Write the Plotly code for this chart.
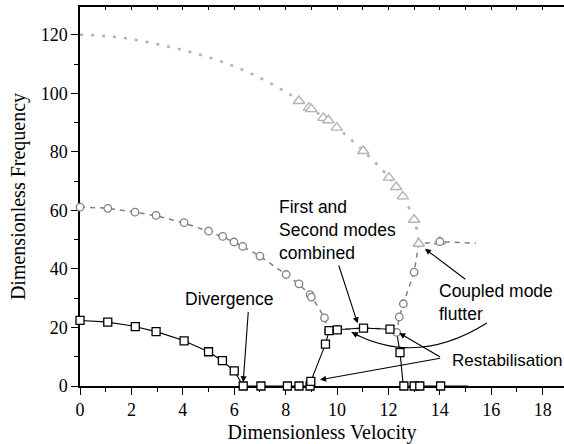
import plotly.graph_objects as go

# ---- data ----
# Mode 1 (squares, solid black)
mode1_line_x = [0, 1, 2, 3, 4, 5, 5.5, 6, 6.35, 8.95, 8.98, 9.55, 9.69, 10.0, 11.0, 12.06, 12.32, 12.45, 12.58, 15.1]
mode1_line_y = [22.4, 21.9, 20.6, 18.5, 15.6, 11.7, 8.8, 5.2, 0, 0, 1.6, 14.3, 18.9, 19.2, 19.8, 19.4, 18.6, 11.4, 0, 0]
mode1_pts_x = [0, 1.08, 2.15, 2.96, 4.05, 5.0, 5.54, 6.0, 6.35, 7.04, 8.07, 8.52, 8.95, 8.98, 9.55, 9.69, 10.01, 11.03, 12.06, 12.45, 12.6, 13.0, 13.22, 14.03]
mode1_pts_y = [22.4, 21.8, 20.3, 18.6, 15.4, 11.7, 8.7, 5.2, 0, 0, 0, 0, 0, 1.6, 14.3, 18.9, 19.2, 19.8, 19.4, 11.4, 0, 0, 0, 0]

# Mode 2 (circles, grey dashed)
mode2_line_x = [0, 1, 2, 3, 4, 5, 6, 7, 8, 8.5, 9.0, 9.5, 9.66, 10.0, 11.0, 12.06, 12.32, 12.42, 12.58, 13.0, 13.18, 14.0, 15.4]
mode2_line_y = [61.1, 60.8, 59.6, 58.1, 55.8, 52.9, 49.2, 44.4, 38.2, 34.9, 30.8, 23.5, 18.8, 19.2, 19.8, 19.4, 18.3, 23.6, 28.1, 38.9, 48.6, 49.3, 48.8]
mode2_pts_x = [0, 1.08, 2.14, 2.96, 4.05, 5.0, 5.55, 5.99, 6.33, 7.0, 8.02, 8.52, 8.95, 9.0, 9.51, 9.66, 10.0, 12.32, 12.42, 12.58, 13.0, 14.0]
mode2_pts_y = [61.1, 60.7, 59.4, 58.3, 55.8, 52.9, 51.1, 49.2, 47.7, 44.4, 38.1, 34.9, 31.2, 30.4, 23.3, 18.8, 19.3, 18.3, 23.6, 28.1, 38.9, 49.3]

# Mode 3 (triangles, light grey dotted)
mode3_line_x = [0, 1, 2, 3, 4, 5, 6, 7, 8, 9, 10, 11, 12, 12.5, 13.0, 13.18]
mode3_line_y = [120, 119.6, 118.5, 116.8, 114.8, 112.3, 109.2, 105.3, 100.5, 94.8, 88.2, 80.5, 71.5, 65.3, 57, 48.6]
mode3_pts_x = [8.52, 8.91, 9.0, 9.47, 9.66, 9.99, 11.02, 12.02, 12.3, 12.56, 13.0, 13.18, 14.0]
mode3_pts_y = [97.4, 95.1, 94.6, 91.6, 90.8, 88.3, 80.3, 71.2, 68.0, 64.8, 56.8, 48.6, 49.3]

x_ticks = [0, 2, 4, 6, 8, 10, 12, 14, 16, 18]
y_ticks = [0, 20, 40, 60, 80, 100, 120]

BLACK = "#000000"
GREY = "#808080"
LIGHT = "#b4b4b4"
SERIF = "Liberation Serif"
SANS = "Liberation Sans"

fig = go.Figure()

fig.add_trace(go.Scatter(x=mode3_line_x, y=mode3_line_y, mode="lines",
                         line=dict(color=LIGHT, width=2.6, dash="3px,8px", shape="spline"),
                         hoverinfo="skip", cliponaxis=False))
fig.add_trace(go.Scatter(x=mode2_line_x, y=mode2_line_y, mode="lines",
                         line=dict(color=GREY, width=1.5, dash="5px,5px"),
                         hoverinfo="skip", cliponaxis=False))
fig.add_trace(go.Scatter(x=mode1_line_x, y=mode1_line_y, mode="lines",
                         line=dict(color=BLACK, width=1.1),
                         hoverinfo="skip", cliponaxis=False))
fig.add_trace(go.Scatter(x=mode3_pts_x, y=mode3_pts_y, mode="markers",
                         marker=dict(symbol="triangle-up", size=10, color="white",
                                     line=dict(color=LIGHT, width=1.4)),
                         cliponaxis=False))
fig.add_trace(go.Scatter(x=mode2_pts_x, y=mode2_pts_y, mode="markers",
                         marker=dict(symbol="circle", size=7.5, color="white",
                                     line=dict(color=GREY, width=1.3)),
                         cliponaxis=False))
fig.add_trace(go.Scatter(x=mode1_pts_x, y=mode1_pts_y, mode="markers",
                         marker=dict(symbol="square", size=8, color="white",
                                     line=dict(color=BLACK, width=1.3)),
                         cliponaxis=False))
# top axis carrier (no points)
fig.add_trace(go.Scatter(x=[], y=[], xaxis="x2", showlegend=False))

# ---- annotations ----
texts = [
    ("Divergence", 5.8, 29.6, "center", 17.5),
    ("First and<br>Second modes<br>combined", 7.65, 53.2, "left", 17.5),
    ("Coupled mode<br>flutter", 13.89, 28.7, "left", 17.5),
    ("Restabilisation", 14.38, 8.7, "left", 17),
]
for t, x, y, xa, fs in texts:
    fig.add_annotation(x=x, y=y, text=t, showarrow=False, xanchor=xa, yanchor="middle",
                       align="left", font=dict(family=SANS, size=fs, color=BLACK))

arrows = [
    ((6.55, 25.8), (6.35, 1.3)),
    ((10.05, 41.7), (10.8, 21.4)),
    ((15.05, 36.1), (13.42, 46.9)),
    ((14.07, 9.6), (9.34, 2.1)),
    ((14.07, 9.6), (12.42, 18.1)),
]
for (tx, ty), (hx, hy) in arrows:
    fig.add_annotation(x=hx, y=hy, ax=tx, ay=ty, axref="x", ayref="y", text="",
                       showarrow=True, arrowhead=2, arrowsize=1.1, arrowwidth=1.1,
                       arrowcolor=BLACK, standoff=0)

# curved arc from "Coupled mode flutter" towards the combined branch
fig.add_shape(type="path", xref="x", yref="y",
              path="M 15.83 21.5 Q 13.1 6.4 10.57 18.4",
              line=dict(color=BLACK, width=1.1))
fig.add_annotation(x=10.57, y=18.4, ax=8.8, ay=4.7, text="", showarrow=True,
                   arrowhead=2, arrowsize=1.1, arrowwidth=1.1, arrowcolor=BLACK, standoff=0)

fig.update_layout(
    width=564, height=444,
    margin=dict(l=80, r=0, t=7, b=58),
    paper_bgcolor="white", plot_bgcolor="white",
    showlegend=False,
    font=dict(family=SERIF, size=18, color=BLACK),
    xaxis=dict(range=[0, 18.83], tickvals=x_ticks, ticktext=[str(v) for v in x_ticks],
               ticks="outside", ticklen=7, tickwidth=1.2, tickcolor=BLACK,
               minor=dict(dtick=1, tick0=0, ticks="outside", ticklen=4, tickwidth=1.2, tickcolor=BLACK),
               showline=True, linecolor=BLACK, linewidth=1.5, showgrid=False, zeroline=False,
               tickfont=dict(family=SERIF, size=18, color=BLACK),
               title=dict(text="Dimensionless Velocity", font=dict(family=SERIF, size=20, color=BLACK),
                          standoff=12),
               automargin=False,
               layer="below traces"),
    xaxis2=dict(overlaying="x", side="top", anchor="y", matches="x", range=[0, 18.83],
                ticks="inside", ticklen=3, tickwidth=1, tickcolor=BLACK, dtick=1, tick0=0,
                showticklabels=False, showline=True, linecolor=BLACK, linewidth=1.5,
                showgrid=False, zeroline=False, automargin=False),
    yaxis=dict(range=[0, 129.5], tickvals=y_ticks, ticktext=[str(v) for v in y_ticks],
               ticks="outside", ticklen=7, tickwidth=1.2, tickcolor=BLACK,
               minor=dict(dtick=10, tick0=0, ticks="outside", ticklen=4, tickwidth=1.2, tickcolor=BLACK),
               showline=True, linecolor=BLACK, linewidth=1.5, showgrid=False, zeroline=False,
               tickfont=dict(family=SERIF, size=18, color=BLACK),
               title=dict(text="Dimensionless Frequency", font=dict(family=SERIF, size=20, color=BLACK),
                          standoff=10),
               automargin=False,
               layer="below traces"),
)

fig.write_html("out.html")
